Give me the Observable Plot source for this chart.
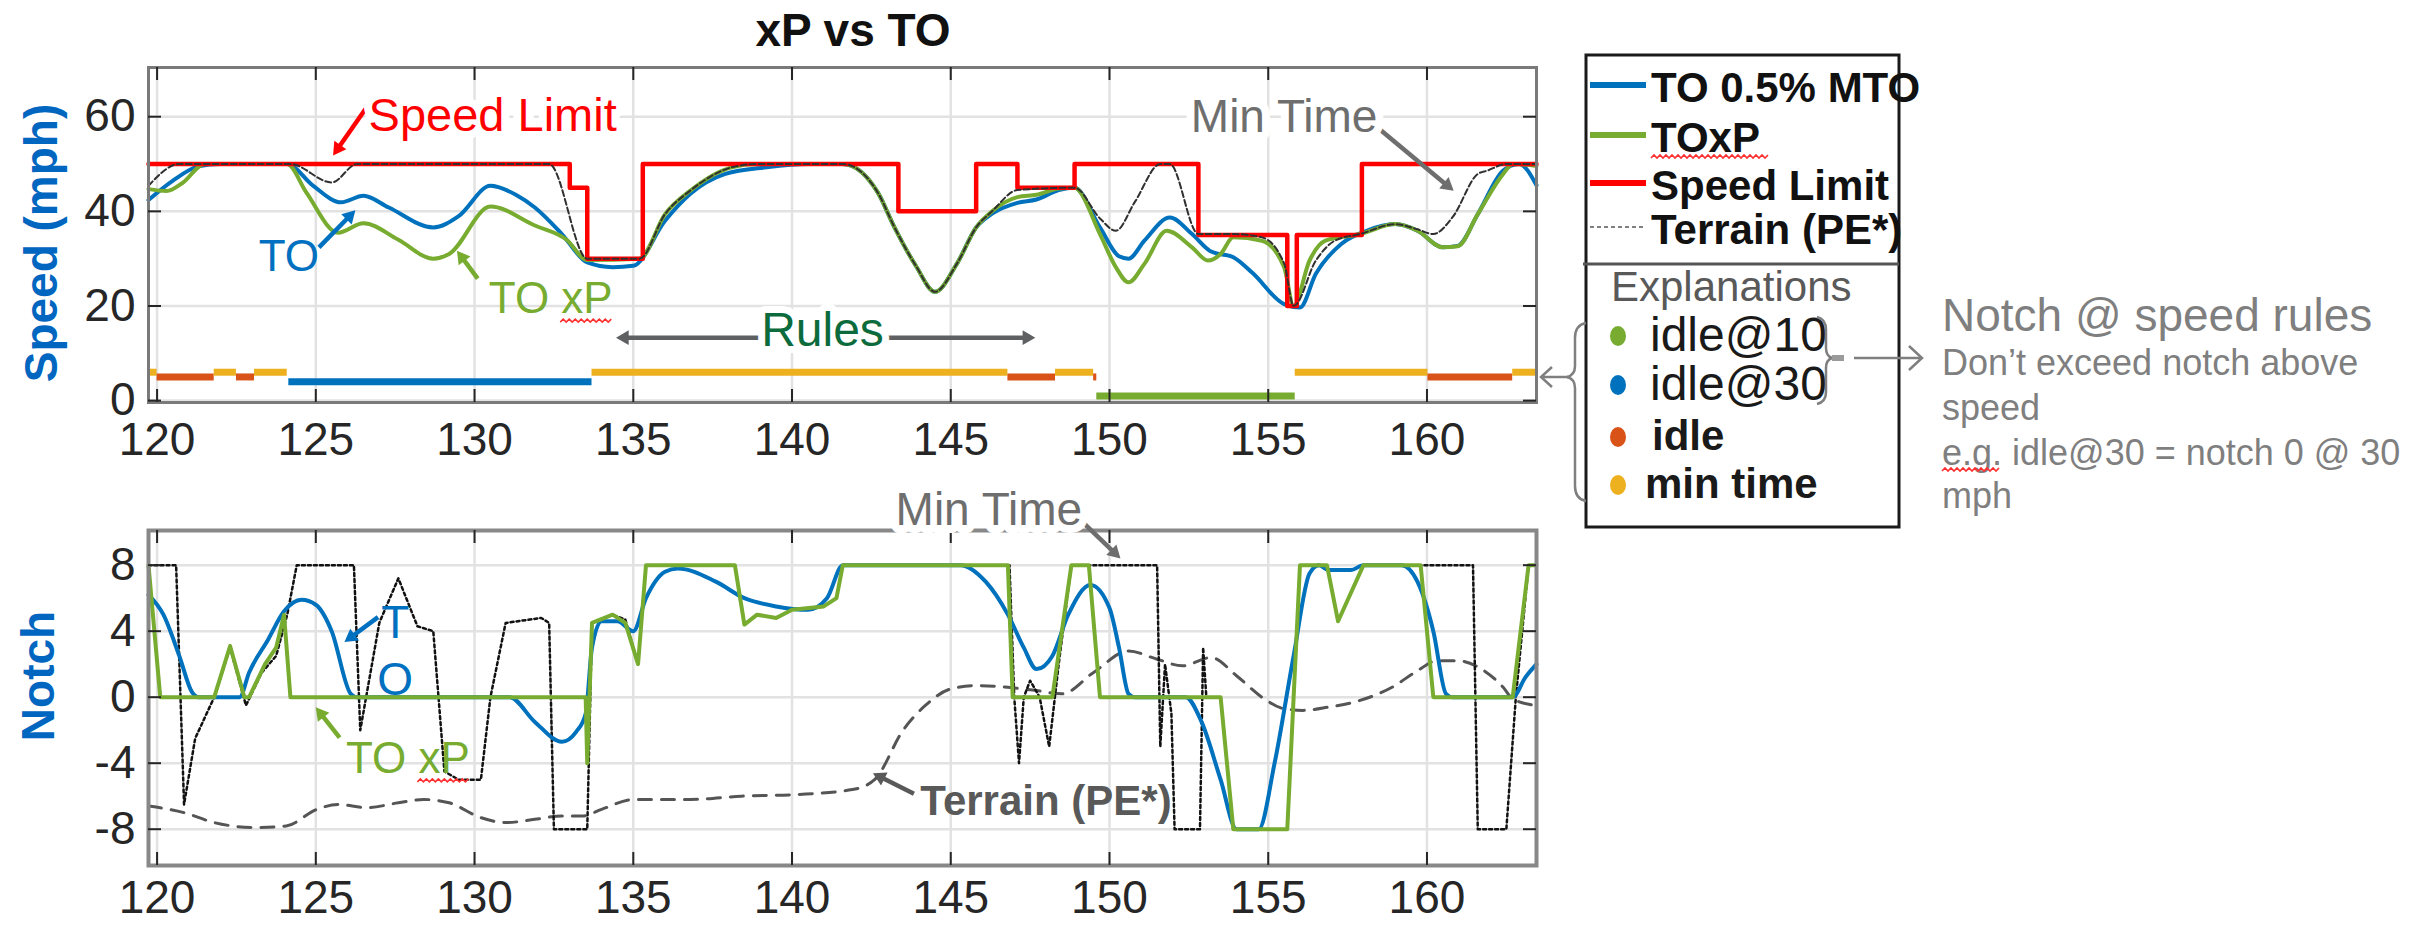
<!DOCTYPE html>
<html><head><meta charset="utf-8">
<script src="https://cdn.jsdelivr.net/npm/d3@7"></script>
<script src="https://cdn.jsdelivr.net/npm/@observablehq/plot@0.6"></script>
<style>
html,body{margin:0;padding:0;background:#fff;}
#wrap{position:relative;width:2433px;height:925px;overflow:hidden;background:#fff;}
#wrap > div, #wrap > svg{position:absolute;}
</style></head><body>
<div id="wrap">
  <div id="topPlot" style="left:0;top:0"></div>
  <div id="botPlot" style="left:0;top:470px"></div>
</div>
<script>
const FONT = '"Liberation Sans", Arial, sans-serif';

// ---------- data ----------
const xTicks = [120,125,130,135,140,145,150,155,160];
const speedTicks = [0,20,40,60];
const notchTicks = [-8,-4,0,4,8];
const xDomain = [119.73, 163.45];
const speedDomain = [-0.4, 70.4];
const notchDomain = [-10.2, 10.1];

// Speed limit (step-after): [mile, mph]
const speedLimit = [[119.73,50],[133.0,45],[133.55,30],[135.3,50],[143.35,40],[145.8,50],[147.1,45],[148.9,50],[152.8,35],[155.6,20],[155.9,35],[157.95,50],[163.45,50]];

// TO 0.5% MTO speed
const toSpeed = [[119.73,42.4],[120.5,46.5],[121.3,49.5],[122,50],[124.1,50],[124.9,45.5],[125.8,41.9],[126.5,43.3],[127.3,40.8],[128.7,36.6],[129.5,39],[130.5,45.4],[131.3,43.5],[131.9,40.8],[132.75,35.2],[133.55,29.2],[134.35,28.2],[135,28.5],[136,38],[136.8,43.7],[137.9,47.9],[139.2,49.3],[140.5,50],[141.6,50],[142.7,44],[143.2,37],[143.9,28.5],[144.5,23],[145.2,29],[145.8,36.6],[146.3,39.5],[147.1,41.8],[147.7,42.5],[148.4,44.5],[148.9,45],[149.7,36.6],[150.3,30.5],[150.6,30],[151.1,33.8],[151.9,38.7],[152.6,35.2],[153.2,31.5],[153.9,30.3],[154.5,27],[155.5,20.4],[156,19.7],[156.5,26.8],[157.3,33.1],[158.1,35.9],[159,37.3],[159.7,35.9],[160.5,32.4],[160.97,32.7],[161.6,39.4],[162.4,48.6],[162.9,50],[163.45,45.5]];

// TOxP speed
const xpSpeed = [[119.73,44.7],[120.3,44.3],[120.8,46],[121.5,50],[124.1,50],[124.7,44],[125.7,35.5],[126.5,37.5],[127.6,34],[128.7,30],[129.2,31],[130.5,41],[131.9,37],[132.9,34],[133.55,29.7],[135.2,30],[136,39.4],[136.8,44.4],[138.1,49.3],[138.9,50],[141.6,50],[142.7,44],[143.2,37],[143.9,28.5],[144.5,23],[145.2,29],[145.8,36.6],[146.3,40],[147.1,43],[147.7,43.5],[148.4,44.8],[148.9,45],[149.7,35.2],[150.2,28.2],[150.6,25],[151.1,28.9],[151.8,35.9],[152.6,32.4],[153.1,29.6],[153.5,31],[153.9,34.5],[154.8,33.8],[155.5,28.2],[155.8,20],[156.3,29.6],[156.8,33.8],[157.9,35.2],[159,37.3],[159.7,35.9],[160.5,32.4],[160.97,32.6],[161.6,39.4],[162.4,47.9],[162.7,50],[163.45,49.6]];

// Min time speed (thin dashed)
const minTimeSpeed = [[119.73,45.4],[120.7,50],[124.2,50],[125.5,46.1],[126.3,50],[132.35,50],[133.55,30],[135.2,30],[136,39.4],[136.8,44.4],[138.1,49.3],[138.9,50],[141.6,50],[142.7,44],[143.2,37],[143.9,28.5],[144.5,23],[145.2,29],[145.8,36.6],[146.3,40],[147.1,44.5],[148.9,45],[149.7,38.5],[150.2,35.9],[150.8,42],[151.6,50],[151.9,50],[152.8,35.2],[153.9,35.2],[154.8,34.5],[155.5,29],[155.8,20],[156.5,29.6],[157.1,33.8],[157.9,35.2],[159,37.3],[159.7,36.2],[160.2,35.2],[160.8,38.7],[161.6,47.9],[161.9,48.6],[162.5,50],[163.45,50]];

// Rule segments
const ruleTypes = ["idle@10","idle@30","idle","min time"];
const ruleColors = ["#77AC30","#0072BD","#D95319","#EDB120"];
const ruleLevels = [1,4,5,6];
const ruleStart = [119.73,120.0,121.8,122.5,123.07,124.15,133.7,146.8,148.3,149.5,149.6,155.85,160.03,162.7];
const ruleEnd   = [120.0,121.8,122.5,123.07,124.1,133.7,146.8,148.3,149.5,149.6,155.85,160.03,162.7,163.45];
const ruleKind  = ["min time","idle","min time","idle","min time","idle@30","min time","idle","min time","idle","idle@10","min time","idle","min time"];

// Notch: TOxP
const xpNotch = [[119.73,8],[120.1,0],[121.8,0],[122.3,3.1],[122.75,0],[122.9,0],[123.4,2],[123.75,3],[124.0,5],[124.2,0],[133.5,0],[133.55,-4],[133.7,4.5],[134.35,5],[134.75,4.5],[135.15,2],[135.4,8],[138.2,8],[138.5,4.4],[138.9,5],[139.5,4.8],[140.0,5.3],[141.0,5.5],[141.4,6],[141.6,8],[146.8,8],[146.95,0],[148.2,0],[148.8,8],[149.35,8],[149.7,0],[153.5,0],[153.9,-8],[155.6,-8],[156.0,8],[156.85,8],[157.2,4.6],[158.0,8],[159.8,8],[160.2,0],[162.7,0],[163.2,8],[163.45,8]];

// Notch: TO
const toNotch = [[119.73,6.2],[120.2,5],[120.7,2.5],[121.1,0.3],[121.3,0],[122.6,0],[122.9,1.5],[123.5,3.5],[124.0,5.2],[124.55,5.9],[125.0,5.6],[125.5,4],[126.1,0.2],[126.3,0],[131.1,0],[131.9,-1.5],[132.75,-2.7],[133.2,-2.1],[133.5,-1],[133.7,3],[134.0,4.6],[134.5,4.6],[135.0,4],[135.4,6],[136.0,7.6],[136.4,7.8],[137.6,7],[138.5,6],[139.5,5.5],[140.5,5.3],[141.1,6],[141.6,8],[145.3,8],[146.1,7],[146.8,5],[147.3,3],[147.7,1.7],[148.2,2.5],[148.7,5],[149.4,6.8],[150.0,5.4],[150.3,3],[150.6,0.2],[150.8,0],[152.4,0],[152.9,-1.5],[153.5,-5],[154.0,-8],[154.7,-8],[155.2,-4],[155.8,2.5],[156.3,7.5],[156.6,8],[156.9,7.7],[157.6,7.7],[158.0,8],[159.2,8],[159.7,7],[160.2,4],[160.6,0.2],[160.8,0],[162.7,0],[163.1,1.2],[163.45,2]];

// Notch: min time (dotted)
const minTimeNotch = [[119.73,8],[120.6,8],[120.85,-6.5],[121.2,-2.5],[121.8,0],[122.3,3],[122.8,-0.5],[123.3,1.5],[123.75,2.5],[124.1,5],[124.4,8],[126.2,8],[126.4,-2],[127.0,4.5],[127.6,7.2],[128.2,4.3],[128.7,4],[129.05,-4.5],[129.5,-5],[130.2,-5],[130.5,0],[130.98,4.5],[132.1,4.8],[132.35,4.5],[132.5,-8],[133.55,-8],[133.7,4.5],[134.35,5],[134.75,4.7],[135.15,2],[135.4,8],[138.2,8],[138.5,4.4],[138.9,5],[139.5,4.8],[140.0,5.3],[141.0,5.5],[141.4,6],[141.6,8],[146.85,8],[147.0,0],[147.15,-4],[147.3,0],[147.5,1],[147.8,0],[148.1,-3],[148.4,2],[148.8,8],[151.5,8],[151.6,-3],[151.75,2],[151.95,-1],[152.05,-8],[152.85,-8],[152.95,3],[153.05,0],[153.5,0],[153.9,-8],[155.6,-8],[156.0,8],[156.85,8],[157.2,4.6],[158.0,8],[161.45,8],[161.6,-8],[162.5,-8],[162.8,0],[163.2,8],[163.45,8]];

// Terrain (PE*)
const terrain = [[119.73,-6.6],[120.85,-7.0],[121.8,-7.6],[123.1,-7.9],[124.07,-7.8],[125.03,-6.8],[125.7,-6.5],[126.6,-6.7],[127.6,-6.4],[128.4,-6.2],[129.2,-6.4],[130.2,-7.3],[131.0,-7.6],[131.9,-7.4],[132.75,-7.2],[133.4,-7.2],[134.0,-6.8],[135.0,-6.2],[136.8,-6.2],[138.4,-6.0],[140.15,-5.9],[141.9,-5.6],[142.6,-5.0],[143.5,-2.0],[144.2,-0.5],[145.0,0.5],[145.8,0.7],[146.8,0.6],[147.7,0.4],[148.5,0.2],[149.5,1.5],[150.6,2.8],[151.5,2.3],[152.3,1.9],[153.2,2.4],[154.0,1.3],[154.8,0],[155.5,-0.7],[156.1,-0.8],[156.9,-0.6],[157.7,-0.3],[158.9,0.6],[159.7,1.6],[160.3,2.2],[161.0,2.2],[161.8,1.6],[162.4,0.6],[162.7,-0.1],[163.45,-0.5]];

// Legend
const legendSeries = ["TO 0.5% MTO","TOxP","Speed Limit","Terrain (PE*)"];
const legendColors = ["#0072BD","#77AC30","#FF0000","#808080"];
const noteTitle = "Notch @ speed rules";
const noteLines = ["Don\u2019t exceed notch above","speed","e.g. idle@30 = notch 0 @ 30","mph"];

// Annotations (data coordinates)
const topTexts = [
  {x:130.57,y:60.9,text:"Speed Limit",c:"#FF0000",s:47,halo:true},
  {x:124.15,y:31,text:"TO",c:"#0070C0",s:44,halo:false},
  {x:132.4,y:22.2,text:"TO xP",c:"#77AC30",s:44,halo:false},
  {x:155.5,y:60.5,text:"Min Time",c:"#6E6E6E",s:46,halo:true}
];
const topArrows = [
  {x1:126.57,y1:61.7,x2:125.5,y2:51.4,c:"#FF0000"},
  {x1:125.1,y1:32.4,x2:126.3,y2:40.6,c:"#0070C0"},
  {x1:130.1,y1:25.8,x2:129.4,y2:32.1,c:"#77AC30"},
  {x1:158.3,y1:58.5,x2:160.9,y2:44,c:"#6E6E6E"},
  {x1:140.96,y1:13.3,x2:134.38,y2:13.3,c:"#5f6062"},
  {x1:140.96,y1:13.3,x2:147.74,y2:13.3,c:"#5f6062"}
];
const rulesLabel = {x:140.96,y:14.8,text:"Rules",c:"#0B6B3C",s:48};
const botTexts = [
  {x:127.5,y:2.95,text:"T\nO",c:"#0070C0",s:46,halo:false},
  {x:127.9,y:-3.53,text:"TO xP",c:"#77AC30",s:44,halo:false},
  {x:148.0,y:-6.15,text:"Terrain (PE*)",c:"#595959",s:42,halo:false,bold:true},
  {x:146.2,y:11.5,text:"Min Time",c:"#6E6E6E",s:46,halo:true}
];
const botArrows = [
  {x1:126.96,y1:4.85,x2:125.84,y2:3.25,c:"#0070C0"},
  {x1:125.75,y1:-2.45,x2:124.95,y2:-0.5,c:"#77AC30"},
  {x1:143.84,y1:-5.85,x2:142.48,y2:-4.55,c:"#595959"},
  {x1:149.0,y1:10.9,x2:150.4,y2:8.3,c:"#6E6E6E"}
];

// ---------- build ----------
const pts = a => a.map(([x,y]) => ({x,y}));
const rules = ruleStart.map((s,i) => ({start:s, end:ruleEnd[i], type:ruleKind[i], level:ruleLevels[ruleTypes.indexOf(ruleKind[i])]}));

const W = 1600, ML = 148, FW = 1388, FH = 335;
const TMT = 67, BH = 455, BMT = 60;
const sxS = Plot.scale({x: {domain: xDomain, range: [ML, ML + FW]}});
const syTop = Plot.scale({y: {domain: speedDomain, range: [TMT + FH, TMT]}});
const syBot = Plot.scale({y: {domain: notchDomain, range: [BMT + FH, BMT]}});

function frameMarks(ticksY){
  return [
    Plot.gridX(xTicks, {stroke:"#e2e2e2", strokeOpacity:1, strokeWidth:2.5}),
    Plot.gridY(ticksY, {stroke:"#e2e2e2", strokeOpacity:1, strokeWidth:2.5})
  ];
}
function tickMarks(ticksY, padX){
  return [
    Plot.tickX(xTicks, {x:d=>d, insetTop:FH-13, stroke:"#262626", strokeWidth:2}),
    Plot.tickX(xTicks, {x:d=>d, insetBottom:FH-13, stroke:"#262626", strokeWidth:2}),
    Plot.tickY(ticksY, {y:d=>d, insetRight:FW-13, stroke:"#262626", strokeWidth:2}),
    Plot.tickY(ticksY, {y:d=>d, insetLeft:FW-13, stroke:"#262626", strokeWidth:2}),
    Plot.axisX(xTicks, {tickSize:0, tickPadding:padX, fontSize:46, color:"#262626", label:null}),
    Plot.axisY(ticksY, {tickSize:0, tickPadding:13, fontSize:46, color:"#262626", label:null, tickFormat:d=>String(d)})
  ];
}
const textMark = t => Plot.text([t], {x:"x", y:"y", text:"text", fill:t.c, fontSize:t.s, fontWeight:t.bold?"bold":"normal",
   lineHeight:1.22, stroke:t.halo?"white":null, strokeWidth:t.halo?16:0, paintOrder:"stroke", strokeLinejoin:"round"});

// arrows with filled triangular heads: shaft (link) + rotated triangle (dot)
function arrowMarks(list, sx, sy, r = 7, width = 4.5){
  const shafts = [], heads = [];
  for (const a of list){
    const px1 = sx.apply(a.x1), py1 = sy.apply(a.y1), px2 = sx.apply(a.x2), py2 = sy.apply(a.y2);
    const L = Math.hypot(px2 - px1, py2 - py1), ux = (px2 - px1) / L, uy = (py2 - py1) / L;
    const cx = px2 - ux * 1.555 * r, cy = py2 - uy * 1.555 * r;
    const d = {x1:a.x1, y1:a.y1, x2:sx.invert(cx), y2:sy.invert(cy)};
    const rot = Math.atan2(ux, -uy) * 180 / Math.PI;
    shafts.push(Plot.link([d], {x1:"x1", y1:"y1", x2:"x2", y2:"y2", stroke:a.c, strokeWidth:width}));
    heads.push(Plot.dot([d], {x:"x2", y:"y2", symbol:"triangle2", r, fill:a.c, stroke:"none", rotate:rot}));
  }
  return [...shafts, ...heads];
}

const topPlot = Plot.plot({
  width: W, height: 470,
  marginLeft: ML, marginRight: W-ML-FW, marginTop: TMT, marginBottom: 470-TMT-FH,
  x: {domain: xDomain}, y: {domain: speedDomain},
  color: {domain: ruleTypes, range: ruleColors},
  style: {fontFamily: FONT, background: "transparent", overflow: "visible"},
  marks: [
    ...frameMarks(speedTicks),
    Plot.ruleY(rules, {y:"level", x1:"start", x2:"end", stroke:"type", strokeWidth:7}),
    Plot.line(pts(toSpeed), {x:"x", y:"y", stroke:"#0072BD", strokeWidth:4, curve:"monotone-x"}),
    Plot.line(pts(xpSpeed), {x:"x", y:"y", stroke:"#77AC30", strokeWidth:4, curve:"monotone-x"}),
    Plot.line(pts(speedLimit), {x:"x", y:"y", stroke:"#FF0000", strokeWidth:4.5, curve:"step-after"}),
    Plot.line(pts(minTimeSpeed), {x:"x", y:"y", stroke:"#303030", strokeWidth:2, strokeDasharray:"6,3", curve:"monotone-x"}),
    Plot.frame({stroke:"#7a7a7a", strokeWidth:3}),
    ...tickMarks(speedTicks, 20),
    ...arrowMarks(topArrows, sxS, syTop),
    Plot.text([rulesLabel], {x:"x", y:"y", text:"text", fill:rulesLabel.c, fontSize:rulesLabel.s, stroke:"white", strokeWidth:14, paintOrder:"stroke"}),
    ...topTexts.map(textMark)
  ]
});
document.getElementById("topPlot").append(topPlot);

const botPlot = Plot.plot({
  width: W, height: BH,
  marginLeft: ML, marginRight: W-ML-FW, marginTop: BMT, marginBottom: BH-BMT-FH,
  x: {domain: xDomain}, y: {domain: notchDomain},
  style: {fontFamily: FONT, background: "transparent", overflow: "visible"},
  marks: [
    ...frameMarks(notchTicks),
    Plot.line(pts(terrain), {x:"x", y:"y", stroke:"#555555", strokeWidth:3, strokeDasharray:"13,10", curve:"monotone-x"}),
    Plot.line(pts(minTimeNotch), {x:"x", y:"y", stroke:"#111111", strokeWidth:2.5, strokeDasharray:"3,3"}),
    Plot.line(pts(toNotch), {x:"x", y:"y", stroke:"#0072BD", strokeWidth:4, curve:"monotone-x"}),
    Plot.line(pts(xpNotch), {x:"x", y:"y", stroke:"#77AC30", strokeWidth:4}),
    Plot.frame({stroke:"#888888", strokeWidth:4}),
    ...tickMarks(notchTicks, 15),
    ...arrowMarks(botArrows, sxS, syBot),
    ...botTexts.map(textMark)
  ]
});
document.getElementById("botPlot").append(botPlot);

// ---------- overlay: title, axis titles, legend, notes ----------
const svg = d3.select("#wrap").append("svg")
  .attr("width", 2433).attr("height", 925)
  .style("left", "0px").style("top", "0px")
  .style("font-family", FONT);

function wavy(x0, x1, y){
  let d = `M${x0},${y}`, up = true;
  for (let x = x0 + 3; x <= x1; x += 3){ d += `L${x},${y + (up ? -3 : 0)}`; up = !up; }
  return d;
}
const squiggle = (x0,x1,y) => svg.append("path").attr("d", wavy(x0,x1,y)).attr("fill","none").attr("stroke","#FF3030").attr("stroke-width",1.6);

svg.append("text").attr("x", 853).attr("y", 46).attr("text-anchor","middle")
  .attr("font-size", 46).attr("font-weight","bold").attr("fill","#111").text("xP vs TO");
svg.append("text").attr("transform","translate(41,243) rotate(-90)").attr("text-anchor","middle")
  .attr("dominant-baseline","central").attr("font-size",46).attr("font-weight","bold").attr("fill","#0066C0").text("Speed (mph)");
svg.append("text").attr("transform","translate(38,676) rotate(-90)").attr("text-anchor","middle")
  .attr("dominant-baseline","central").attr("font-size",46).attr("font-weight","bold").attr("fill","#0066C0").text("Notch");

// squiggles under "xP" of the in-plot labels
{
  const cx = sxS.apply(132.4), cy = syTop.apply(22.2);
  squiggle(cx + 10, cx + 62, cy + 27);
  const cx2 = sxS.apply(127.9), cy2 = syBot.apply(-3.53) + 470;
  squiggle(cx2 + 10, cx2 + 62, cy2 + 27);
}

// legend box
svg.append("rect").attr("x",1586).attr("y",55).attr("width",313).attr("height",472)
  .attr("fill","white").attr("stroke","#1a1a1a").attr("stroke-width",3);
svg.append("line").attr("x1",1583).attr("x2",1899).attr("y1",264).attr("y2",264).attr("stroke","#555").attr("stroke-width",3);
const legRowY = [87,137,185,229];
legendSeries.forEach((name,i) => {
  const y = legRowY[i];
  svg.append("line").attr("x1",1590).attr("x2",1646).attr("y1",y-2).attr("y2",y-2)
    .attr("stroke",legendColors[i]).attr("stroke-width", i===3 ? 2 : 6)
    .attr("stroke-dasharray", i===3 ? "4,3" : null);
  svg.append("text").attr("x",1651).attr("y",y).attr("dominant-baseline","central")
    .attr("font-size",42).attr("font-weight","bold").attr("fill","#111").text(name);
});
squiggle(1651, 1768, 158);

svg.append("text").attr("x",1611).attr("y",286).attr("dominant-baseline","central")
  .attr("font-size",42).attr("fill","#595959").text("Explanations");
const expY = [334,383,435,483];
const expX = [1650,1650,1652,1645];
ruleTypes.forEach((name,i) => {
  const y = expY[i];
  const bold = i >= 2;
  svg.append("ellipse").attr("cx",1618).attr("cy",y+2).attr("rx",8).attr("ry",10).attr("fill",ruleColors[i]);
  svg.append("text").attr("x", expX[i]).attr("y",y).attr("dominant-baseline","central")
    .attr("font-size", bold ? 42 : 48).attr("font-weight", bold ? "bold" : "normal").attr("fill","#1a1a1a").text(name);
});

// braces and arrows
const g = svg.append("g").attr("fill","none").attr("stroke","#7f7f7f").attr("stroke-width",2.5);
g.append("path").attr("d","M1586,323 Q1575,325 1575,338 L1575,366 Q1575,375 1567,377 Q1575,379 1575,388 L1575,486 Q1575,499 1586,501");
g.append("path").attr("d","M1568,377 L1541,377 M1552,367 L1541,377 L1552,387");
g.append("path").attr("d","M1817,317 Q1826,319 1826,330 L1826,348 Q1826,356 1832,358 Q1826,360 1826,368 L1826,392 Q1826,402 1817,404");
svg.append("rect").attr("x",1832).attr("y",355).attr("width",12).attr("height",6).attr("fill","#9a9a9a");
g.append("path").attr("d","M1854,358 L1922,358 M1909,346 L1922,358 L1909,370");

// notes
svg.append("text").attr("x",1942).attr("y",315).attr("dominant-baseline","central")
  .attr("font-size",46).attr("fill","#7f7f7f").text(noteTitle);
const noteY = [362,407,452,495];
noteLines.forEach((t,i) => {
  svg.append("text").attr("x",1942).attr("y",noteY[i]).attr("dominant-baseline","central")
    .attr("font-size",36).attr("fill","#7f7f7f").text(t);
});
squiggle(1942, 2000, 471);
</script>
</body></html>
